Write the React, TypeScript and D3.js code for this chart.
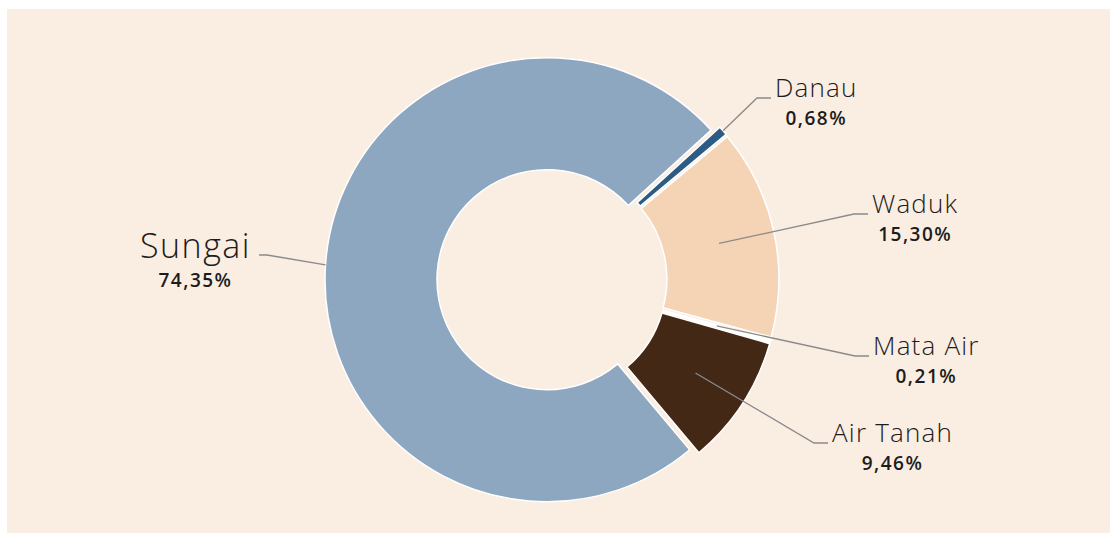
//@ts-nocheck
import * as d3 from "d3";
import React, { useEffect, useRef } from "react";

const names = ["Danau", "Waduk", "Mata Air", "Air Tanah", "Sungai"];
const values = [0.68, 15.3, 0.21, 9.46, 74.35];
const pctLabels = ["0,68%", "15,30%", "0,21%", "9,46%", "74,35%"];
const colors = ["#2c5b84", "#f5d3b5", "#ffffff", "#432816", "#8ea7c1"];

// where each label sits (text start x, baseline y) and where its leader starts
const labelLayout = {
  Danau: { x: 775, y: 97, size: 26, side: "right", fromEdge: true },
  Waduk: { x: 872, y: 213, size: 26, side: "right", fromEdge: false },
  "Mata Air": { x: 873, y: 355, size: 26, side: "right", fromEdge: false },
  "Air Tanah": { x: 832, y: 442, size: 26, side: "right", fromEdge: false },
  Sungai: { x: 140, y: 258, size: 34, side: "left", fromEdge: true },
};

const W = 1111;
const H = 533;

const chart = (svgEl) => {
  const svg = d3.select(svgEl);
  svg.selectAll("*").remove();

  svg
    .append("rect")
    .attr("x", 7)
    .attr("y", 9)
    .attr("width", W - 8)
    .attr("height", H - 9)
    .attr("fill", "#faede2");

  const cx = 552;
  const cy = 280;
  const rOuter = 222;
  const rInner = 110;
  const explode = 5;

  const data = names.map((name, i) => ({
    name,
    value: values[i],
    pct: pctLabels[i],
    color: colors[i],
  }));

  const start = (47.66 * Math.PI) / 180;
  const pie = d3
    .pie()
    .sort(null)
    .value((d) => d.value)
    .startAngle(start)
    .endAngle(start + 2 * Math.PI);

  const arcs = pie(data);
  const arc = d3.arc().innerRadius(rInner).outerRadius(rOuter);

  const shift = (d) => {
    const a = (d.startAngle + d.endAngle) / 2;
    return [Math.sin(a) * explode, -Math.cos(a) * explode];
  };

  const g = svg.append("g").attr("transform", `translate(${cx},${cy})`);

  g.selectAll("path")
    .data(arcs)
    .join("path")
    .attr("transform", (d) => `translate(${shift(d)})`)
    .attr("d", arc)
    .attr("fill", (d) => d.data.color)
    .attr("stroke", "#ffffff")
    .attr("stroke-width", 1.5);

  // leader lines
  const leaders = svg.append("g").attr("fill", "none").attr("stroke", "#8a8a8a").attr("stroke-width", 1.3);
  const labels = svg.append("g").attr("font-family", "'Open Sans', 'DejaVu Sans', sans-serif").attr("fill", "#1c1c1c");

  arcs.forEach((d) => {
    const L = labelLayout[d.data.name];
    const [sx, sy] = shift(d);
    const a = (d.startAngle + d.endAngle) / 2;
    let p0;
    if (L.fromEdge) {
      p0 = [cx + sx + Math.sin(a) * rOuter, cy + sy - Math.cos(a) * rOuter];
    } else {
      const c = arc.centroid(d);
      p0 = [cx + sx + c[0], cy + sy + c[1]];
    }

    const name = labels
      .append("text")
      .attr("x", L.x)
      .attr("y", L.y)
      .attr("font-size", L.size)
      .attr("font-weight", 300)
      .attr("letter-spacing", L.side === "left" ? 1.5 : 1.2)
      .text(d.data.name);
    const w = name.node().getComputedTextLength();

    labels
      .append("text")
      .attr("x", L.x + w / 2)
      .attr("y", L.y + (L.side === "left" ? 29 : 28))
      .attr("text-anchor", "middle")
      .attr("font-size", 19)
      .attr("font-weight", 600)
      .attr("letter-spacing", 1.5)
      .text(d.data.pct);

    let pts;
    if (L.side === "left") {
      const end = L.x + w + 8;
      pts = [p0, [end + 8, L.y - 3], [end, L.y - 3]];
    } else {
      pts = [p0, [L.x - 18, L.y + 1], [L.x - 4, L.y + 1]];
    }
    leaders.append("path").attr("d", d3.line()(pts));
  });
};

export default function App() {
  const ref = useRef(null);
  useEffect(() => {
    if (ref.current) chart(ref.current);
  }, []);
  return (
    <svg
      ref={ref}
      width={W}
      height={H}
      style={{ position: "absolute", left: 0, top: 0, display: "block" }}
    />
  );
}
